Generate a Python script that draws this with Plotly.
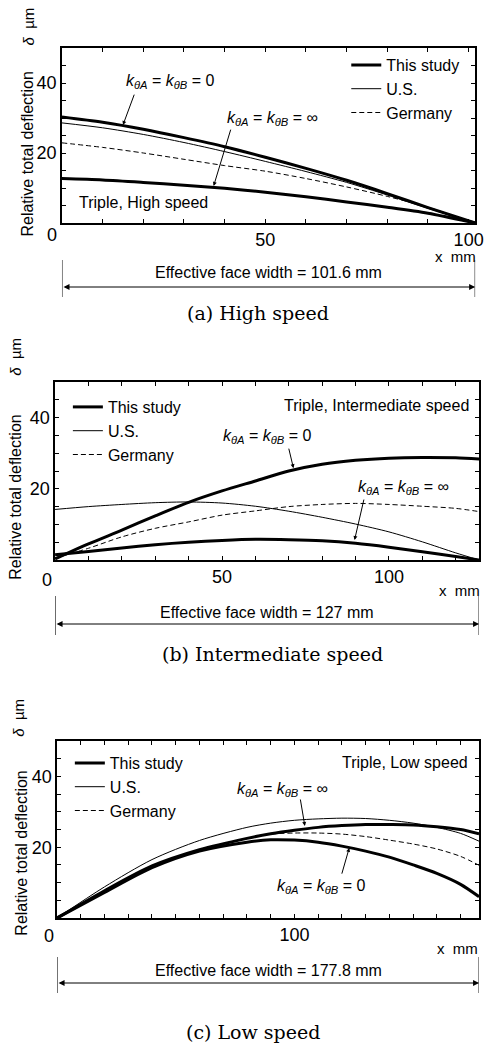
import plotly.graph_objects as go

W, H = 492, 1047
SANS = "Liberation Sans, Arial, sans-serif"
SERIF = "DejaVu Serif, serif"

# ---------------- data ----------------
# (a) High speed, face width 101.6 mm
xa = [0, 10, 20, 30, 40, 50, 60, 70, 80, 90, 101.6]
a_study_0 = [30.3, 28.8, 26.8, 24.4, 21.8, 18.8, 15.6, 12.2, 8.4, 4.4, 0.0]
a_study_inf = [12.7, 12.3, 11.6, 10.8, 9.9, 8.8, 7.5, 6.0, 4.5, 2.8, 0.0]
a_us = [28.6, 27.2, 25.3, 23.0, 20.4, 17.6, 14.7, 11.6, 8.0, 4.2, 0.0]
a_germany = [22.9, 21.6, 20.0, 18.2, 16.4, 14.8, 12.7, 10.3, 7.6, 4.5, 0.0]

# (b) Intermediate speed, face width 127 mm
xb = [0, 10, 20, 30, 40, 50, 60, 70, 80, 90, 100, 110, 120, 127]
b_study_0 = [0.3, 4.5, 8.4, 12.4, 16.2, 19.4, 22.2, 25.0, 26.9, 28.0, 28.6, 28.8, 28.7, 28.4]
b_study_inf = [1.5, 2.4, 3.4, 4.3, 5.0, 5.5, 5.8, 5.7, 5.4, 4.7, 3.6, 2.3, 1.0, 0.0]
b_us = [14.2, 15.0, 15.6, 16.1, 16.3, 16.0, 15.1, 13.7, 12.0, 10.1, 7.9, 5.1, 2.0, 0.0]
b_germany = [0.5, 3.3, 6.5, 8.9, 10.7, 12.6, 13.8, 15.0, 15.6, 15.9, 15.6, 15.1, 14.5, 13.6]

# (c) Low speed, face width 177.8 mm
xc = [0, 20, 40, 60, 80, 90, 100, 110, 120, 130, 140, 150, 160, 170, 177.8]
c_study_inf = [0.0, 7.7, 14.7, 19.3, 22.5, 23.8, 24.8, 25.6, 26.1, 26.4, 26.4, 26.3, 25.8, 25.0, 23.8]
c_study_0 = [0.0, 7.2, 14.2, 18.9, 21.4, 22.1, 22.0, 21.4, 20.3, 18.9, 17.2, 15.0, 12.6, 9.5, 6.0]
c_us = [0.0, 8.8, 16.5, 21.9, 25.6, 26.8, 27.6, 28.0, 28.2, 28.1, 27.6, 26.8, 25.6, 23.9, 21.7]
c_germany = [0.0, 7.4, 14.4, 19.3, 22.5, 23.7, 24.0, 24.0, 23.7, 23.0, 22.0, 20.9, 19.5, 17.4, 14.9]

face_widths = [101.6, 127, 177.8]
panel_titles = ["Triple, High speed", "Triple, Intermediate speed", "Triple, Low speed"]
captions = ["(a) High speed", "(b) Intermediate speed", "(c) Low speed"]
legend_names = ["This study", "U.S.", "Germany"]
k0_label = "<i>k</i><sub><i>θA</i></sub> = <i>k</i><sub><i>θB</i></sub> = 0"
kinf_label = "<i>k</i><sub><i>θA</i></sub> = <i>k</i><sub><i>θB</i></sub> = ∞"


def py(p):
    return 1 - p / H


def px(p):
    return p / W


# pixel boxes of the three plot areas (left, right, top, bottom)
boxes = [(63, 483, 48, 223), (56, 487, 382, 560), (58, 487, 741, 918)]

fig = go.Figure()

panels = [
    (xa, a_study_0, a_study_inf, a_us, a_germany),
    (xb, b_study_0, b_study_inf, b_us, b_germany),
    (xc, c_study_0, c_study_inf, c_us, c_germany),
]

for i, (xs, s0, sinf, us, ge) in enumerate(panels):
    sfx = "" if i == 0 else str(i + 1)
    xr, yr = "x" + sfx, "y" + sfx
    lg = "legend" + sfx
    fig.add_trace(go.Scatter(x=xs, y=s0, mode="lines", name=legend_names[0],
                             line=dict(color="black", width=3, shape="spline", smoothing=0.8),
                             xaxis=xr, yaxis=yr, legend=lg, showlegend=True))
    fig.add_trace(go.Scatter(x=xs, y=sinf, mode="lines", name=legend_names[0],
                             line=dict(color="black", width=3, shape="spline", smoothing=0.8),
                             xaxis=xr, yaxis=yr, legend=lg, showlegend=False))
    fig.add_trace(go.Scatter(x=xs, y=us, mode="lines", name=legend_names[1],
                             line=dict(color="black", width=1, shape="spline", smoothing=0.8),
                             xaxis=xr, yaxis=yr, legend=lg, showlegend=True))
    fig.add_trace(go.Scatter(x=xs, y=ge, mode="lines", name=legend_names[2],
                             line=dict(color="black", width=1, dash="5px,3px", shape="spline",
                                       smoothing=0.8),
                             xaxis=xr, yaxis=yr, legend=lg, showlegend=True))

axis_common = dict(showline=True, linecolor="black", linewidth=1.5, mirror="ticks",
                   ticks="inside", ticklen=4, tickwidth=1, tickcolor="black",
                   showgrid=False, zeroline=False,
                   tickfont=dict(family=SANS, size=18, color="black"))

x_ticklabels = [[50, 100], [50, 100], [100]]
layout = dict(width=W, height=H, margin=dict(l=0, r=0, t=0, b=0),
              paper_bgcolor="white", plot_bgcolor="white", showlegend=True)

legend_pos = [(352, 48), (69, 390), (71, 746)]
ytitle_c = [(28, 154), (15, 497), (21, 853)]
delta_c = [(29, 27), (15, 357), (18, 718)]
zero_c = [(53, 235), (48, 580), (50, 936)]
xmm_c = [(486, 256), (490, 590), (488, 948)]

annotations = []
shapes = []
for i, (l, r, t, b) in enumerate(boxes):
    sfx = "" if i == 0 else str(i + 1)
    fw = face_widths[i]
    xa_ = dict(axis_common, domain=[px(l), px(r)], range=[0, fw],
               tickvals=[v for v in range(0, int(fw) + 1, 10)],
               ticktext=[str(v) if v in x_ticklabels[i] else "" for v in range(0, int(fw) + 1, 10)],
               anchor="y" + sfx)
    ya_ = dict(axis_common, domain=[py(b), py(t)], range=[0, 50],
               tickvals=[5, 10, 15, 20, 25, 30, 35, 40, 45],
               ticktext=["", "", "", "20", "", "", "", "40", ""],
               anchor="x" + sfx)
    layout["xaxis" + sfx] = xa_
    layout["yaxis" + sfx] = ya_
    lx, ly = legend_pos[i]
    layout["legend" + sfx] = dict(x=px(lx), y=py(ly), xanchor="left", yanchor="top",
                                  bgcolor="rgba(0,0,0,0)",
                                  font=dict(family=SANS, size=16, color="black"),
                                  tracegroupgap=0, itemwidth=30)
    xr, yr = "x" + sfx, "y" + sfx
    # "0" corner label
    annotations.append(dict(x=px(zero_c[i][0]), y=py(zero_c[i][1]), xref="paper", yref="paper",
                            text="0", showarrow=False, xanchor="center", yanchor="middle",
                            font=dict(family=SANS, size=18, color="black")))
    # "x mm"
    annotations.append(dict(x=px(xmm_c[i][0]), y=py(xmm_c[i][1]), xref="paper", yref="paper",
                            text="x  mm", xanchor="right", yanchor="middle", showarrow=False,
                            font=dict(family=SANS, size=15, color="black")))
    # y title
    annotations.append(dict(x=px(ytitle_c[i][0]), y=py(ytitle_c[i][1]), xref="paper", yref="paper",
                            text="Relative total deflection", textangle=-90,
                            xanchor="center", yanchor="middle",
                            showarrow=False, font=dict(family=SANS, size=16, color="black")))
    annotations.append(dict(x=px(delta_c[i][0]), y=py(delta_c[i][1]), xref="paper", yref="paper",
                            text="<i>δ</i>  µm", textangle=-90, xanchor="center", yanchor="middle",
                            showarrow=False, font=dict(family=SANS, size=15, color="black")))
    # panel title
    annotations.append(dict(x=[3.6, 124.5, 174.1][i], y=[6.0, 43.3, 43.8][i], xref=xr, yref=yr,
                            text=panel_titles[i], xanchor=["left", "right", "right"][i],
                            yanchor="middle",
                            showarrow=False, font=dict(family=SANS, size=16, color="black")))
    # dimension line
    dim_y = [287, 624, 983][i]
    txt_y = [273, 612, 970][i]
    ext = [(260, 297), (596, 635), (957, 993)][i]
    annotations.append(dict(x=fw, y=py(dim_y), xref=xr, yref="paper",
                            ax=0, ay=0, axref=xr, ayref="pixel",
                            text="", showarrow=True, arrowhead=2, arrowsize=1.2, arrowwidth=1,
                            arrowside="end+start", arrowcolor="black", standoff=0, startstandoff=0))
    annotations.append(dict(x=fw / 2, y=py(txt_y), xref=xr, yref="paper",
                            text="Effective face width = %s mm" % ("%g" % fw),
                            xanchor="center", yanchor="middle",
                            showarrow=False, font=dict(family=SANS, size=16, color="black")))
    for xv in (0, fw):
        shapes.append(dict(type="line", xref=xr, yref="paper", x0=xv, x1=xv,
                           y0=py(ext[0]), y1=py(ext[1]), line=dict(color="black", width=1)))
    # caption
    cap_x = [262, 277, 257][i]
    cap_y = [313, 654, 1032][i]
    annotations.append(dict(x=px(cap_x), y=py(cap_y), xref="paper", yref="paper",
                            text=captions[i], showarrow=False, xanchor="center", yanchor="middle",
                            font=dict(family=SERIF, size=19, color="black")))

# k-theta labels and leader arrows: (text x, text y, tail x, tail y, tip x, tip y)
k_labels = [
    [(k0_label, 26.6, 40.3, 17.9, 37.1, 15.0, 28.0), (kinf_label, 51.8, 30.0, 41.6, 27.1, 37.3, 10.6)],
    [(k0_label, 63.7, 34.6, 69.9, 31.7, 71.4, 25.8), (kinf_label, 104.4, 20.5, 92.6, 17.4, 89.7, 5.6)],
    [(kinf_label, 94.9, 36.2, 102.4, 33.9, 104.4, 26.0), (k0_label, 111.5, 8.8, 119.8, 12.1, 123.1, 19.8)],
]
for i, items in enumerate(k_labels):
    sfx = "" if i == 0 else str(i + 1)
    xr, yr = "x" + sfx, "y" + sfx
    for (txt, tx, ty, ax_, ay_, hx, hy) in items:
        annotations.append(dict(x=tx, y=ty, xref=xr, yref=yr, text=txt, showarrow=False,
                                xanchor="center", yanchor="middle",
                                font=dict(family=SANS, size=16, color="black")))
        annotations.append(dict(x=hx, y=hy, xref=xr, yref=yr, ax=ax_, ay=ay_, axref=xr, ayref=yr,
                                text="", showarrow=True, arrowhead=2, arrowsize=0.8, arrowwidth=1,
                                arrowcolor="black", standoff=0))

layout["annotations"] = annotations
layout["shapes"] = shapes
fig.update_layout(**layout)

fig.write_html("out.html", config={"displayModeBar": False},
               post_script="document.body.style.margin='0';document.body.style.overflow='hidden';")
